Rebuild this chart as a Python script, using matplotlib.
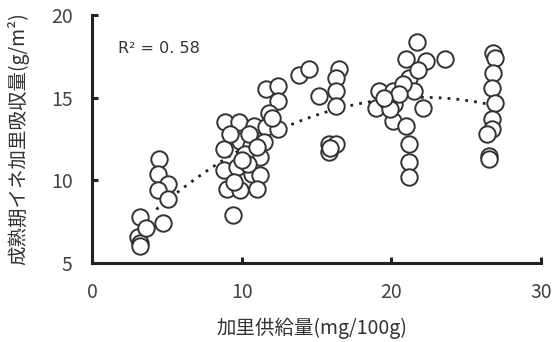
import numpy as np
import matplotlib.pyplot as plt

plt.rcParams['font.family'] = ['Noto Sans CJK JP', 'DejaVu Sans']

# 加里供給量 (mg/100g) と 成熟期イネ加里吸収量 (g/m2)
supply = [3.2, 4.75, 3.1, 3.2, 3.2, 4.5, 4.4, 5.1, 4.4, 5.1, 3.6,
          11.6, 12.4, 12.4, 11.8, 8.9, 9.8, 10.8, 11.6, 12.4, 8.8, 9.9, 10.6, 11.2,
          8.8, 9.7, 10.7, 11.2, 9.0, 9.9, 11.0, 9.4, 10.2, 9.5, 10.4, 11.5, 9.2,
          10.5, 12.0, 10.0, 11.0,
          13.8, 14.5, 15.2, 16.5, 16.3, 16.3, 16.3, 15.85, 16.3, 15.85, 15.9,
          19.2, 19.0, 19.7, 20.1, 20.2, 20.1, 21.0, 21.2, 21.2, 21.2, 21.7, 21.0,
          22.3, 23.6, 21.2, 21.8, 21.5, 22.1, 20.8, 20.5, 19.9, 19.5,
          26.8, 26.95, 26.8, 26.75, 26.95, 26.75, 26.75, 26.4, 26.5, 26.5]
uptake = [7.8, 7.4, 6.6, 6.2, 6.0, 11.3, 10.4, 9.8, 9.4, 8.9, 7.1,
          15.5, 15.7, 14.8, 14.1, 13.5, 13.5, 13.3, 13.2, 13.1, 11.9, 12.4, 12.1, 11.4,
          10.6, 10.8, 10.4, 10.3, 9.5, 9.4, 9.5, 7.9, 11.6, 9.9, 11.0, 12.3, 12.8,
          12.8, 13.8, 11.2, 12.0,
          16.4, 16.75, 15.1, 16.75, 16.2, 15.4, 14.5, 12.2, 12.2, 11.7, 11.95,
          15.4, 14.4, 14.8, 15.4, 14.6, 13.6, 13.3, 12.2, 11.1, 10.2, 18.35, 17.35,
          17.2, 17.35, 16.2, 16.7, 15.4, 14.4, 15.8, 15.2, 14.3, 15.0,
          17.7, 17.4, 16.5, 15.6, 14.7, 13.7, 13.1, 12.8, 11.5, 11.3]
r2_text = "R² = 0. 58"
trend_range = [4.3, 27.0]

x = np.array(supply)
y = np.array(uptake)
coef = np.polyfit(x, y, 2)
xs = np.linspace(trend_range[0], trend_range[1], 200)

fig = plt.figure(figsize=(5.52, 3.42), dpi=100)
ax = fig.add_axes([92 / 552, 1 - 263 / 342, 449 / 552, 248 / 342])

ax.plot(xs, np.polyval(coef, xs), linestyle=(0, (1, 2.2)), color='#222222',
        linewidth=2.0, zorder=1)
ax.scatter(x, y, s=140, facecolor='white', edgecolor='#333333',
           linewidth=1.4, zorder=2)

ax.set_xlim(0, 30)
ax.set_ylim(5, 20)
ax.set_xticks([0, 10, 20, 30])
ax.set_yticks([5, 10, 15, 20])

for side in ['top', 'right']:
    ax.spines[side].set_visible(False)
for side in ['left', 'bottom']:
    ax.spines[side].set_linewidth(2.2)
    ax.spines[side].set_color('#222222')

ax.tick_params(direction='in', length=4, width=2.2, color='#222222',
               labelsize=14, labelcolor='#444444')
ax.tick_params(axis='x', pad=14)
ax.tick_params(axis='y', pad=14)

ax.set_xlabel('加里供給量(mg/100g)', fontsize=14, color='#333333', va='center')
ax.xaxis.set_label_coords(0.49, -0.262)
ax.set_ylabel('成熟期イネ加里吸収量(g/m²)', fontsize=14, color='#333333', va='center')
ax.yaxis.set_label_coords(-0.165, 0.5)

ax.text(1.75, 18.0, r2_text, fontsize=11.5, color='#333333',
        family=['Liberation Sans Narrow', 'DejaVu Sans'], va='center')

plt.savefig('out.png', dpi=100)
